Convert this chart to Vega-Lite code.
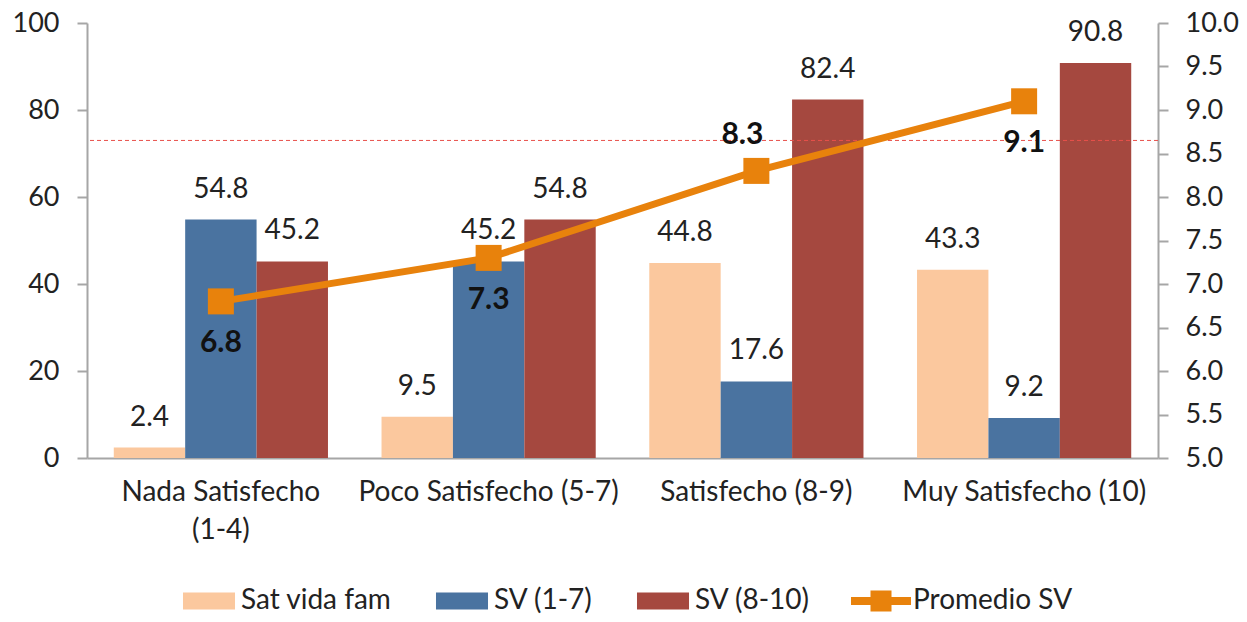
{
  "$schema": "https://vega.github.io/schema/vega-lite/v6.json",
  "width": 1071,
  "height": 435,
  "autosize": {"type": "none"},
  "padding": {"left": 87, "top": 23, "right": 89, "bottom": 164},
  "config": {
    "font": "Lato",
    "view": {"stroke": null},
    "axis": {
      "domainColor": "#A6A6A6",
      "domainWidth": 2,
      "tickColor": "#A6A6A6",
      "tickWidth": 2,
      "tickSize": 10,
      "labelFont": "Lato",
      "labelFontSize": 27,
      "labelColor": "#222222",
      "grid": false,
      "title": null
    }
  },
  "data": {
    "values": [
      {"cat": "Nada Satisfecho (1-4)", "serie": "Sat vida fam", "valor": 2.4},
      {"cat": "Poco Satisfecho (5-7)", "serie": "Sat vida fam", "valor": 9.5},
      {"cat": "Satisfecho (8-9)", "serie": "Sat vida fam", "valor": 44.8},
      {"cat": "Muy Satisfecho (10)", "serie": "Sat vida fam", "valor": 43.3},
      {"cat": "Nada Satisfecho (1-4)", "serie": "SV (1-7)", "valor": 54.8},
      {"cat": "Poco Satisfecho (5-7)", "serie": "SV (1-7)", "valor": 45.2},
      {"cat": "Satisfecho (8-9)", "serie": "SV (1-7)", "valor": 17.6},
      {"cat": "Muy Satisfecho (10)", "serie": "SV (1-7)", "valor": 9.2},
      {"cat": "Nada Satisfecho (1-4)", "serie": "SV (8-10)", "valor": 45.2},
      {"cat": "Poco Satisfecho (5-7)", "serie": "SV (8-10)", "valor": 54.8},
      {"cat": "Satisfecho (8-9)", "serie": "SV (8-10)", "valor": 82.4},
      {"cat": "Muy Satisfecho (10)", "serie": "SV (8-10)", "valor": 90.8},
      {"cat": "Nada Satisfecho (1-4)", "serie": "Promedio SV", "valor": 6.8},
      {"cat": "Poco Satisfecho (5-7)", "serie": "Promedio SV", "valor": 7.3},
      {"cat": "Satisfecho (8-9)", "serie": "Promedio SV", "valor": 8.3},
      {"cat": "Muy Satisfecho (10)", "serie": "Promedio SV", "valor": 9.1}
    ]
  },
  "layer": [
    {
      "transform": [{"filter": "datum.serie != 'Promedio SV'"}],
      "encoding": {
        "x": {
          "field": "cat",
          "type": "nominal",
          "sort": ["Nada Satisfecho (1-4)", "Poco Satisfecho (5-7)", "Satisfecho (8-9)", "Muy Satisfecho (10)"],
          "scale": {"paddingInner": 0.2, "paddingOuter": 0.1},
          "axis": {
            "ticks": false,
            "labelAngle": 0,
            "labelPadding": 20,
            "labelLineHeight": 38,
            "labelFontSize": 28,
            "labelLimit": 400,
            "labelExpr": "datum.label == 'Nada Satisfecho (1-4)' ? ['Nada Satisfecho', '(1-4)'] : datum.label"
          }
        },
        "xOffset": {
          "field": "serie",
          "type": "nominal",
          "sort": ["Sat vida fam", "SV (1-7)", "SV (8-10)"],
          "scale": {"paddingInner": 0, "paddingOuter": 0}
        },
        "y": {
          "field": "valor",
          "type": "quantitative",
          "scale": {"domain": [0, 100], "nice": false},
          "axis": {"orient": "left", "values": [0, 20, 40, 60, 80, 100], "format": "d", "labelPadding": 18}
        }
      },
      "layer": [
        {
          "mark": {"type": "bar"},
          "encoding": {
            "color": {
              "field": "serie",
              "type": "nominal",
              "scale": {
                "domain": ["Sat vida fam", "SV (1-7)", "SV (8-10)", "Promedio SV"],
                "range": ["#FBC89E", "#4A73A0", "#A5483F", "#E8820C"]
              },
              "legend": {
                "orient": "none",
                "legendX": 92,
                "legendY": 548,
                "direction": "horizontal",
                "title": null,
                "symbolSize": 3600,
                "symbolType": "M-0.867,-0.283H0.867V0.283H-0.867Z",
                "symbolStrokeWidth": 0,
                "labelFont": "Lato",
                "labelFontSize": 28,
                "labelColor": "#222222",
                "labelOffset": 2,
                "columnPadding": 40,
                "padding": 0,
                "labelLimit": 400,
                "encode": {
                  "symbols": {
                    "update": {
                      "shape": {"signal": "datum.value === 'Promedio SV' ? 'M-1,-0.133H-0.35V-0.35H0.35V-0.133H1V0.133H0.35V0.35H-0.35V0.133H-1Z' : 'M-0.867,-0.283H0.867V0.283H-0.867Z'"}
                    }
                  }
                }
              }
            }
          }
        },
        {
          "mark": {"type": "text", "baseline": "alphabetic", "dy": -22, "fontSize": 28, "font": "Lato", "color": "#222222"},
          "encoding": {"text": {"field": "valor", "type": "quantitative", "format": ".1f"}}
        }
      ]
    },
    {
      "encoding": {
        "y": {
          "field": "valor",
          "type": "quantitative",
          "scale": {"domain": [5, 10], "nice": false},
          "axis": {"orient": "right", "values": [5, 5.5, 6, 6.5, 7, 7.5, 8, 8.5, 9, 9.5, 10], "format": ".1f", "labelPadding": 17}
        }
      },
      "layer": [
        {
          "data": {"values": [{"valor": 8.65}]},
          "mark": {"type": "rule", "color": "#E8504B", "strokeWidth": 1, "strokeDash": [4, 3]},
          "encoding": {}
        },
        {
          "transform": [{"filter": "datum.serie == 'Promedio SV'"}],
          "encoding": {
            "x": {
              "field": "cat",
              "type": "nominal",
              "sort": ["Nada Satisfecho (1-4)", "Poco Satisfecho (5-7)", "Satisfecho (8-9)", "Muy Satisfecho (10)"]
            }
          },
          "layer": [
            {"mark": {"type": "line", "color": "#E8820C", "strokeWidth": 7}},
            {"mark": {"type": "point", "shape": "square", "filled": true, "size": 676, "opacity": 1, "color": "#E8820C"}},
            {
              "transform": [{"filter": "datum.cat != 'Satisfecho (8-9)'"}],
              "mark": {"type": "text", "baseline": "middle", "dy": 42, "fontSize": 30, "fontWeight": "bold", "font": "Lato", "color": "#111111"},
              "encoding": {"text": {"field": "valor", "type": "quantitative", "format": ".1f"}}
            },
            {
              "transform": [{"filter": "datum.cat == 'Satisfecho (8-9)'"}],
              "mark": {"type": "text", "baseline": "middle", "dy": -36, "dx": -14, "fontSize": 30, "fontWeight": "bold", "font": "Lato", "color": "#111111"},
              "encoding": {"text": {"field": "valor", "type": "quantitative", "format": ".1f"}}
            }
          ]
        }
      ]
    }
  ],
  "resolve": {"scale": {"y": "independent"}}
}
